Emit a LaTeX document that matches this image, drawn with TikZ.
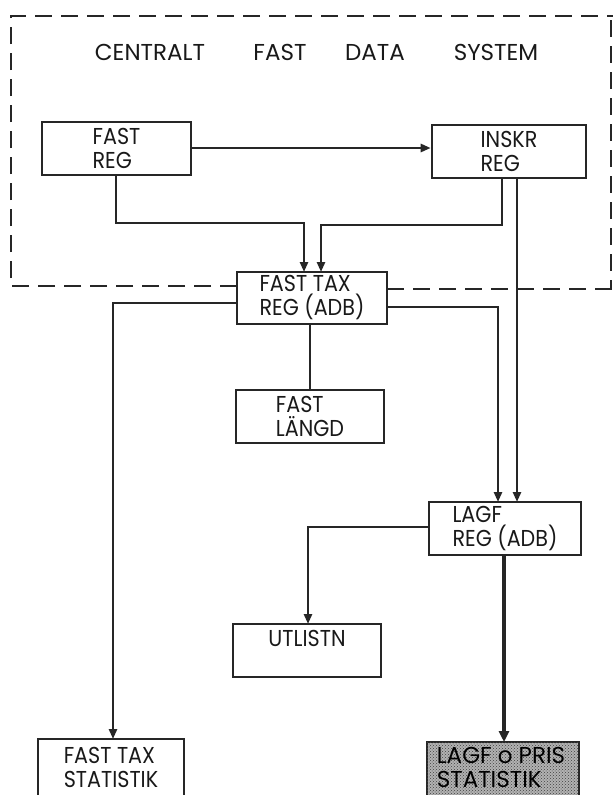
\documentclass[tikz,border=0pt]{standalone}
\usepackage{fontspec}
\setmainfont{Poppins}
\newfontfamily\narrowf{Poppins}[FakeStretch=0.9]
\usetikzlibrary{arrows.meta,patterns}
\begin{document}
\begin{tikzpicture}[x=1pt,y=-1pt,
  box/.style={draw=black!85,line width=2.6pt,rectangle,inner sep=0pt,align=left,
    font=\narrowf\fontsize{23}{24}\selectfont,text=black!90},
  conn/.style={draw=black!85,line width=2.6pt},
  arr/.style={conn,-{Triangle[length=10pt,width=8pt]}},
  thickarr/.style={draw=black!85,line width=4.5pt,-{Triangle[length=11pt,width=10pt]}},
  frame/.style={draw=black!85,line width=2.6pt,dash pattern=on 17pt off 9pt},
  title/.style={font=\fontsize{23}{24}\selectfont,text=black!90,inner sep=0pt}]
\clip (0,0) rectangle (613,795);
\fill[white] (0,0) rectangle (613,795);
% dashed frame
\draw[frame] (237,286) -- (11,286) -- (11,16) -- (613,16);
\draw[frame] (387,289) -- (613,289);
\draw[frame] (611,20) -- (611,289);
% title
\node[title] (t1) at (150,52) {CENTRALT};
\node[title] (t2) at (280,52) {FAST};
\node[title] (t3) at (375,52) {DATA};
\node[title] (t4) at (496,52) {SYSTEM};
% boxes
\node[box,fill=white,minimum width=149pt,minimum height=53pt] (freg) at (116.5,148.5) {FAST\\REG};
\node[box,fill=white,minimum width=154pt,minimum height=53pt] (inskr) at (509,151.5) {INSKR\\REG};
\node[box,fill=white,minimum width=150pt,minimum height=52pt] (ftax) at (312,298) {FAST\ TAX\\REG (ADB)};
\node[box,minimum width=148pt,minimum height=53pt] (flangd) at (310,416.5) {FAST\\LÄNGD};
\node[box,minimum width=152pt,minimum height=53pt] (lagf) at (505,528.5) {LAGF\\REG (ADB)};
\node[box,minimum width=148pt,minimum height=53pt] (utl) at (307,650.5) {UTLISTN\hspace{10pt}\\\phantom{X}};
\node[box,draw=none,minimum width=146pt,minimum height=62pt] (ftstat) at (111,767) {FAST\ TAX\\STATISTIK};
\draw[draw=black!85,line width=2.6pt] (38,805) |- (184,739) -- (184,805);
\node[box,minimum width=152pt,minimum height=70pt,fill=black!30,
  postaction={pattern=crosshatch dots,pattern color=black!75}] (lagfp) at (503,777) {};
\node[font=\fontsize{23}{24}\selectfont,text=black,align=left,inner sep=0pt] (lagfpt) at (501,767) {LAGF o PRIS\\STATISTIK};
% connectors
\draw[arr] (freg.east |- 0,148) -- (inskr.west |- 0,148);
\draw[arr] (116,175) |- (304,223) -- (304,272);
\draw[arr] (502,178) |- (321,225) -- (321,272);
\draw[arr] (517,178) -- (517,502);
\draw[arr] (ftax.east |- 0,307) -| (498,502);
\draw[arr] (ftax.west |- 0,303) -| (113,739);
\draw[conn] (ftax.south -| 310,0) -- (flangd.north -| 310,0);
\draw[arr] (lagf.west |- 0,527) -| (308,624);
\draw[thickarr] (504,555) -- (504,742);
\end{tikzpicture}
\end{document}
